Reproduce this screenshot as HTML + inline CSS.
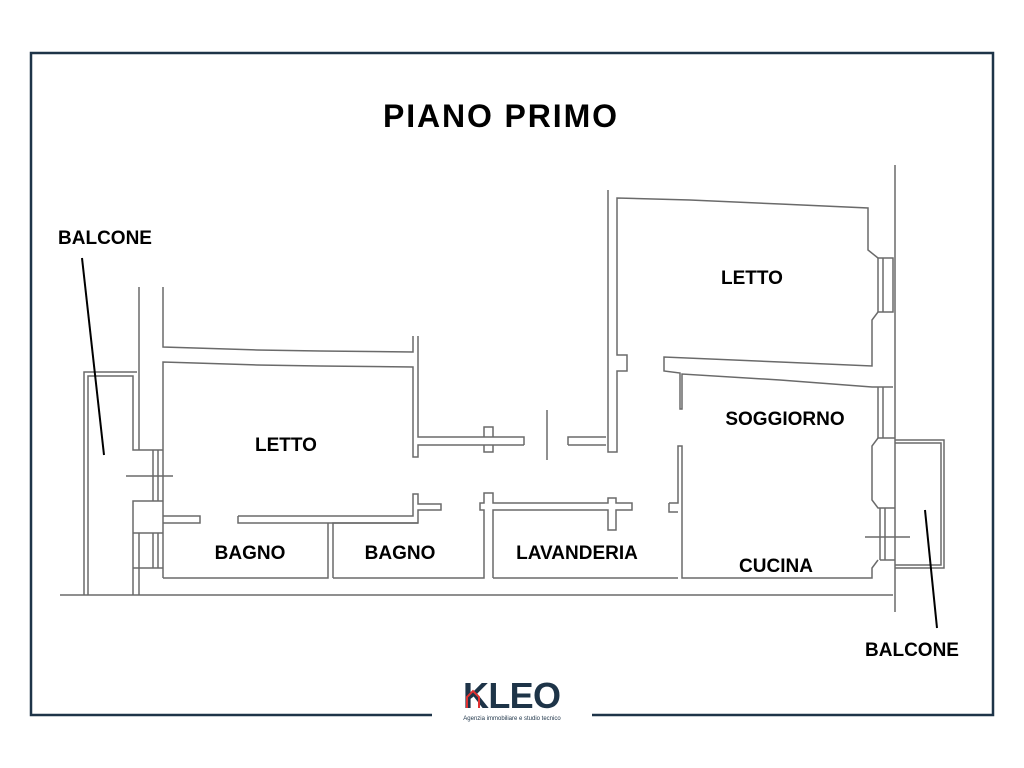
<!DOCTYPE html>
<html><head><meta charset="utf-8"><style>
html,body{margin:0;padding:0;background:#fff;}
svg{display:block;}
text{font-family:"Liberation Sans",sans-serif;font-weight:bold;fill:#000;}
</style></head><body>
<svg width="1024" height="768" viewBox="0 0 1024 768" xmlns="http://www.w3.org/2000/svg">
<polyline points="432,715 31,715 31,53 993,53 993,715 592,715" fill="none" stroke="#1e3448" stroke-width="2.5"/>
<g fill="none" stroke="#6a6a6a" stroke-width="1.5">
<line x1="60" y1="595" x2="893" y2="595"/>
<polyline points="84,595 84,372 137,372"/>
<polyline points="88,595 88,376 133,376 133,450 139,450"/>
<line x1="139" y1="287" x2="139" y2="450"/>
<polyline points="133,595 133,501 163,501"/>
<line x1="139" y1="533" x2="139" y2="595"/>
<line x1="133" y1="533" x2="163" y2="533"/>
<line x1="133" y1="568" x2="163" y2="568"/>
<line x1="153" y1="450" x2="153" y2="501"/><line x1="158" y1="450" x2="158" y2="501"/>
<line x1="153" y1="533" x2="153" y2="568"/><line x1="158" y1="533" x2="158" y2="568"/>
<line x1="139" y1="450" x2="163" y2="450"/>
<line x1="126" y1="476" x2="173" y2="476"/>
<polyline points="163,287 163,347 195,348 257,350 320,351 413,352 413,336"/>
<polyline points="418,336 418,437 524,437 524,445"/>
<polyline points="568,445 568,437 606,437"/>
<polyline points="163,578 163,362 195,363 257,365 320,366 413,367 413,457 418,457 418,445 524,445"/>
<line x1="568" y1="445" x2="606" y2="445"/>
<polyline points="484,437 484,427 493,427 493,437"/>
<polyline points="484,445 484,452 493,452 493,445"/>
<line x1="547" y1="410" x2="547" y2="460"/>
<polyline points="163,516 200,516 200,523 163,523"/>
<polyline points="238,516 413,516 413,494 418,494 418,504 441,504 441,510 418,510 418,523 238,523 238,516"/>
<polyline points="328,523 328,578 163,578"/>
<polyline points="333,578 333,523 418,523"/>
<polyline points="480,578 484,578 484,510 480,510 480,503 484,503 484,493 493,493 493,503 608,503 608,498 616,498 616,503 632,503 632,510 616,510 616,530 608,530 608,510 493,510 493,578"/>
<line x1="333" y1="578" x2="480" y2="578"/>
<line x1="493" y1="578" x2="678" y2="578"/>
<polyline points="669,503 678,503 678,446 682,446 682,578 872,578 872,568 878,560"/>
<polyline points="669,503 669,512 678,512"/>
<polyline points="608,190 608,452 617,452 617,371 627,371 627,355 617,355 617,198 690,200 780,204 868,208 868,250 878,258"/>
<polyline points="878,258 893,258 893,312 878,312 872,320 872,366 780,362 664,357 664,371 680,373 680,409 682,409 682,374 780,380 872,387 878,387"/>
<line x1="878" y1="258" x2="878" y2="312"/><line x1="883" y1="258" x2="883" y2="312"/>
<line x1="878" y1="387" x2="878" y2="438"/><line x1="883" y1="387" x2="883" y2="438"/>
<polyline points="878,387 893,387"/>
<polyline points="895,438 878,438 872,446 872,500 878,508 895,508"/>
<line x1="880" y1="508" x2="880" y2="560"/><line x1="885" y1="508" x2="885" y2="560"/>
<line x1="880" y1="560" x2="895" y2="560"/>
<line x1="865" y1="537" x2="910" y2="537"/>
<line x1="895" y1="165" x2="895" y2="612"/>
<polyline points="895,440 944,440 944,568 895,568"/>
<polyline points="895,443 941,443 941,565 895,565"/>
</g>
<line x1="82" y1="258" x2="104" y2="455" stroke="#000" stroke-width="2"/>
<line x1="925" y1="510" x2="937" y2="628" stroke="#000" stroke-width="2"/>
<text x="500" y="127" font-size="32" text-anchor="middle" textLength="234">PIANO PRIMO</text>
<text x="105" y="244" font-size="19" text-anchor="middle">BALCONE</text>
<text x="912" y="656" font-size="19" text-anchor="middle">BALCONE</text>
<text x="286" y="451" font-size="19" text-anchor="middle">LETTO</text>
<text x="752" y="284" font-size="19" text-anchor="middle">LETTO</text>
<text x="785" y="425" font-size="19" text-anchor="middle">SOGGIORNO</text>
<text x="250" y="559" font-size="19" text-anchor="middle">BAGNO</text>
<text x="400" y="559" font-size="19" text-anchor="middle">BAGNO</text>
<text x="577" y="559" font-size="19" text-anchor="middle">LAVANDERIA</text>
<text x="776" y="572" font-size="19" text-anchor="middle">CUCINA</text>
<text x="512" y="708" font-size="36" text-anchor="middle" style="fill:#1e3448" textLength="98">KLEO</text>
<polyline points="467,708 467,697 473,691 479,697 479,708" fill="none" stroke="#e03030" stroke-width="2"/>
<text x="512" y="720" font-size="6" text-anchor="middle" style="fill:#1e3448;font-weight:normal">Agenzia immobiliare e studio tecnico</text>
</svg>
</body></html>
